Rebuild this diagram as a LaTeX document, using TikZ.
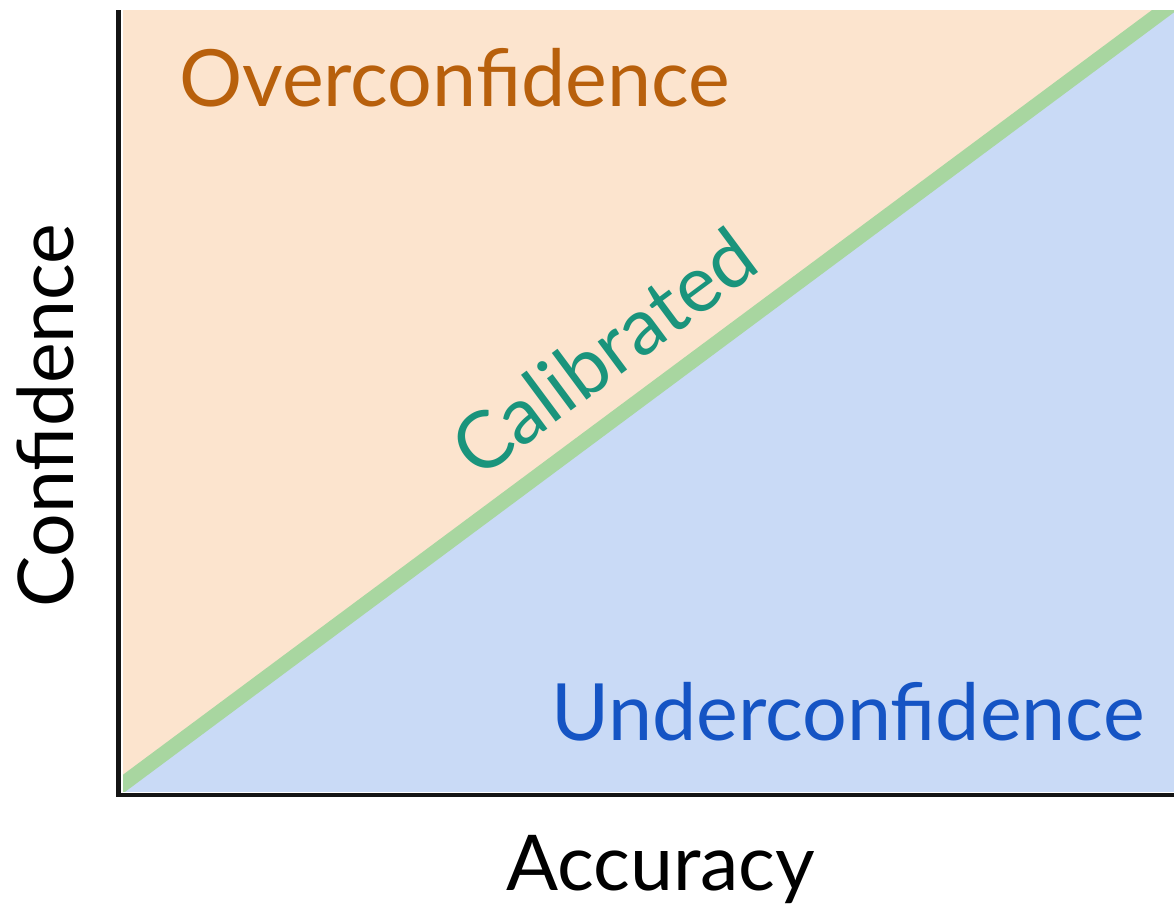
\documentclass[tikz,border=0pt]{standalone}
\usepackage{fontspec}
\usetikzlibrary{calc}
\setmainfont{Lato}
\definecolor{overfill}{RGB}{252,228,206}
\definecolor{underfill}{RGB}{201,218,246}
\definecolor{calline}{RGB}{168,214,160}
\definecolor{overtext}{RGB}{184,96,12}
\definecolor{undertext}{RGB}{21,84,196}
\definecolor{caltext}{RGB}{26,148,124}
\definecolor{axiscol}{RGB}{20,20,20}
\tikzset{
  bigtext/.style={inner sep=0pt, font=\fontsize{79}{95}\selectfont},
  axistext/.style={inner sep=0pt, font=\fontsize{77}{92}\selectfont, text=black},
  axisline/.style={draw=axiscol, line width=4.5pt},
}
\begin{document}
\begin{tikzpicture}[x=1pt,y=-1pt]
\useasboundingbox (0,0) rectangle (1174,905);
\fill[white] (0,0) rectangle (1174,905);
% regions
\coordinate (p0) at (119,787);
\coordinate (p1) at (1174,3);
\begin{scope}
\clip (123,10) rectangle (1174,791);
\fill[overfill] (123,10) rectangle (1174,791);
\fill[underfill] (p0) -- (p1) -- (1180,3) -- (1180,800) -- (110,800) -- (110,787) -- cycle;
\draw[calline, line width=15pt] ($(p0)!-0.05!(p1)$) -- ($(p1)!-0.05!(p0)$);
\end{scope}
% axes
\coordinate (origin) at (118.5,795);
\coordinate (ytop) at (118.5,10);
\coordinate (xend) at (1174,795);
\draw[axisline] (ytop) -- (118.5,797.25);
\draw[axisline] (116.25,795) -- (xend);
% labels
\node[bigtext, text=overtext, anchor=base west] (over) at (179,106) {Overconfidence};
\node[bigtext, text=undertext, anchor=base west] (under) at (551,740) {Underconfidence};
\node[bigtext, text=caltext, anchor=base, rotate=36.6] (cal) at (620.5,375) {Calibrated};
\node[axistext, anchor=base west] (acc) at (506,890) {Accuracy};
\node[axistext, anchor=base west, rotate=90] (conf) at (73,608) {Confidence};
\end{tikzpicture}
\end{document}
